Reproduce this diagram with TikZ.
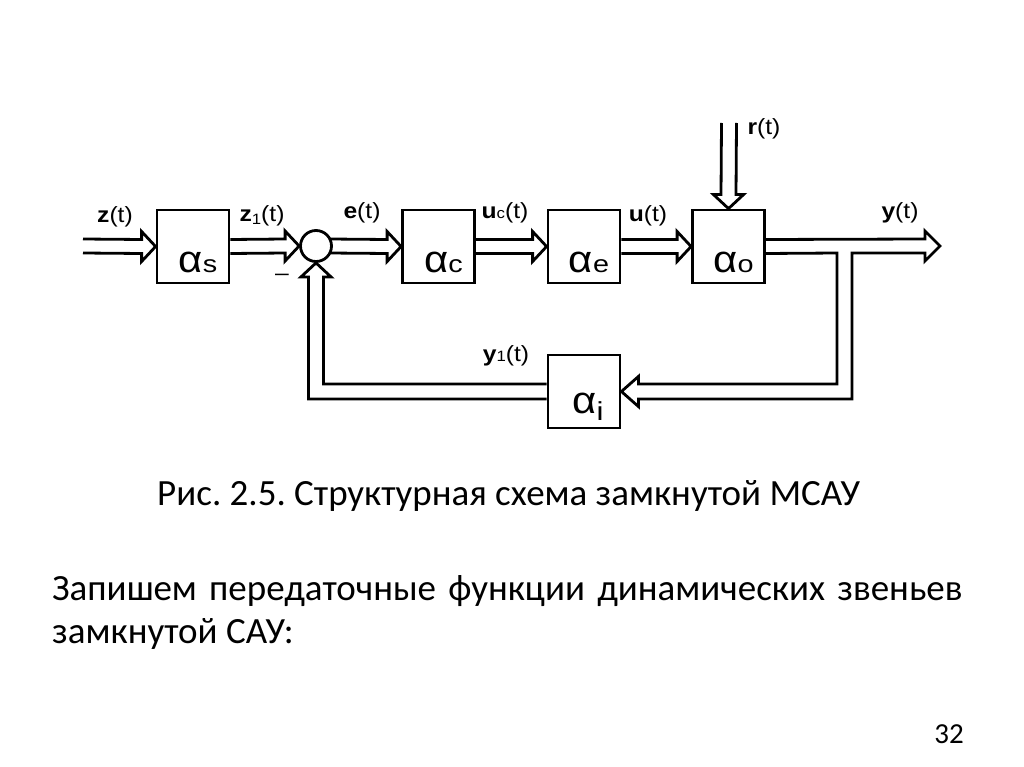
\documentclass[tikz,border=0pt]{standalone}
\usepackage{fontspec}
\setmainfont{Carlito}
\newfontfamily\labfont[FakeStretch=1.12]{Liberation Sans}
\newfontfamily\grfont[FakeStretch=1.1]{Liberation Sans}
\newfontfamily\subfont[FakeStretch=1.2]{Liberation Sans}
\usetikzlibrary{calc}
\tikzset{
  blk/.style={draw, line width=2.8pt, minimum width=72pt, minimum height=73pt, inner sep=0pt},
  conn/.style={line width=2.8pt, line join=miter},
  lab/.style={font=\labfont\fontsize{22}{25}\selectfont, inner sep=0pt},
  alab/.style={anchor=base, inner sep=0pt},
  txt/.style={font=\fontsize{37}{44}\selectfont, inner sep=0pt},
}
\newcommand\dblH[2]{\draw[conn] ($(#1)+(0,-7)$) -- ($(#2)+(-14,-7)$) -- ($(#2)+(-14,-15)$) -- (#2) -- ($(#2)+(-14,15)$) -- ($(#2)+(-14,7)$) -- ($(#1)+(0,7)$);}
\newcommand\alf[1]{{\grfont\fontsize{38}{38}\selectfont α}{\subfont\fontsize{24}{24}\selectfont #1}}
\newcommand\smallsub[1]{{\fontsize{15}{15}\selectfont #1}}
\begin{document}
\begin{tikzpicture}[x=1pt,y=-1pt]
\frenchspacing
\useasboundingbox (0,0) rectangle (1024,767);
% blocks
\node[blk] (as) at (193,246.5) {};
\node[circle, draw, line width=2.8pt, minimum size=31pt, inner sep=0pt] (sum) at (316,246) {};
\node[blk] (ac) at (438.5,246.5) {};
\node[blk] (ae) at (584,246.5) {};
\node[blk] (ao) at (728.5,246.5) {};
\node[blk] (ai) at (584,391.5) {};
% block labels
\node[alab] at ($(as.center)+(5,26)$) {\alf{s}};
\node[alab] at ($(ac.center)+(5,26)$) {\alf{c}};
\node[alab] at ($(ae.center)+(5,26)$) {\alf{e}};
\node[alab] at ($(ao.center)+(5,26)$) {\alf{o}};
\node[alab] at ($(ai.center)+(4,21.5)$) {{\grfont\fontsize{38}{38}\selectfont α}\raisebox{-7pt}{\subfont\fontsize{26}{26}\selectfont i}};
% coordinates
\coordinate (zin) at (83,246);
\coordinate (sumE) at ($(sum.center)+(13.5,0)$);
\coordinate (yout) at (940,246);
\coordinate (rin) at (729,123);
% forward path
\dblH{zin}{as.west}
\dblH{as.east}{sum.west}
\dblH{sumE}{ac.west}
\dblH{ac.east}{ae.west}
\dblH{ae.east}{ao.west}
% disturbance r(t)
\draw[conn] ($(rin)+(-7.5,0)$) -- ($(ao.north)+(-7.5,-14)$) -- ($(ao.north)+(-15,-14)$) -- (ao.north) -- ($(ao.north)+(15,-14)$) -- ($(ao.north)+(7.5,-14)$) -- ($(rin)+(7.5,0)$);
% output and feedback branch
\draw[conn] ($(ao.east)+(0,-7)$) -- ($(yout)+(-15,-7)$) -- ($(yout)+(-15,-15)$) -- (yout) -- ($(yout)+(-15,15)$) -- ($(yout)+(-15,7)$) -- (852,253) -- (852,399) -- ($(ai.east)+(17,7.5)$) -- ($(ai.east)+(17,15)$) -- (ai.east) -- ($(ai.east)+(17,-15)$) -- ($(ai.east)+(17,-7.5)$) -- (837,384) -- (837,253) -- ($(ao.east)+(0,7)$);
% feedback to summing point
\draw[conn] ($(ai.west)+(0,-7.5)$) -- (323.5,384) -- ($(sum.south)+(7.5,14)$) -- ($(sum.south)+(15,14)$) -- (sum.south) -- ($(sum.south)+(-15,14)$) -- ($(sum.south)+(-7.5,14)$) -- (308.5,399) -- ($(ai.west)+(0,7.5)$);
% signal labels
\node[lab] (lz) at (115,217) {\textbf{z}(t)};
\node[lab] (lz1) at (262,216) {\textbf{z}\raisebox{-3pt}{\smallsub{1}}(t)};
\node[lab] (le) at (362,213) {\textbf{e}(t)};
\node[lab] (luc) at (505,213) {\textbf{u}\smallsub{c}(t)};
\node[lab] (lu) at (648,216) {\textbf{u}(t)};
\node[lab] (ly) at (900,213) {\textbf{y}(t)};
\node[lab] (lr) at (764,129) {\textbf{r}(t)};
\node[lab] (ly1) at (506,356) {\textbf{y}\smallsub{1}(t)};
\node[lab] (minus) at (282,277) {–};
% text
\node[txt, anchor=base west] (cap) at (157,505) {Рис. 2.5. Структурная схема замкнутой МСАУ};
\node[txt, anchor=base west] (l1) at (52,600) {\makebox[910pt][s]{Запишем передаточные функции динамических звеньев}};
\node[txt, anchor=base west] (l2) at (52,643) {замкнутой САУ:};
\node[anchor=base east, inner sep=0pt, font=\fontsize{29}{34}\selectfont] (pg) at (964,743) {32};
\end{tikzpicture}
\end{document}
